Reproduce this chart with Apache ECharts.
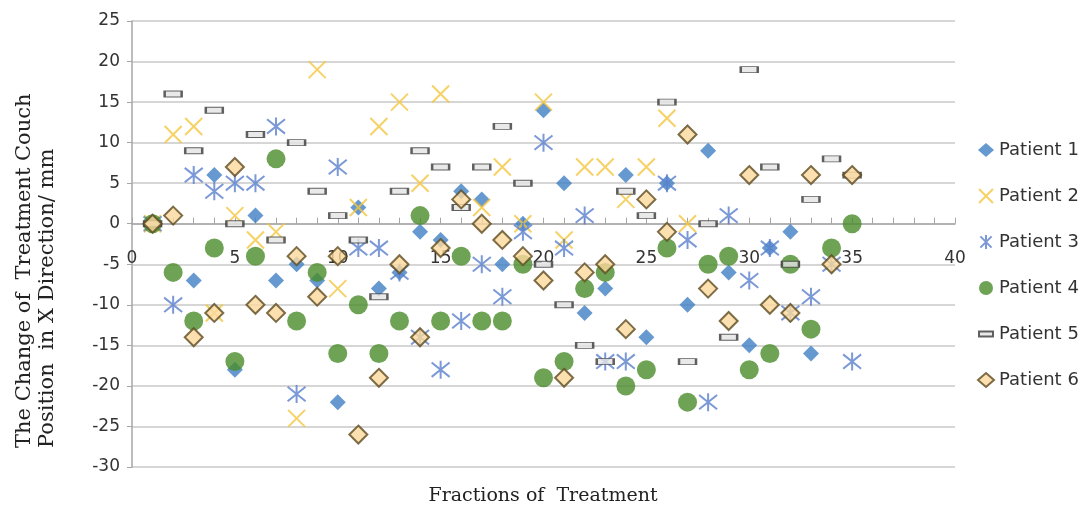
<!DOCTYPE html>
<html>
<head>
<meta charset="utf-8">
<script src="https://cdn.jsdelivr.net/npm/echarts@6/dist/echarts.min.js"></script>
<style>
html, body { margin: 0; padding: 0; background: #fff; }
#chart { width: 1089px; height: 508px; }
</style>
</head>
<body>
<div id="chart"></div>
<script>
// Fractions 1..35, change in couch position (mm); null = not visible in the picture
const fractions = [1, 2, 3, 4, 5, 6, 7, 8, 9, 10, 11, 12, 13, 14, 15, 16, 17, 18, 19, 20,
    21, 22, 23, 24, 25, 26, 27, 28, 29, 30, 31, 32, 33, 34, 35];
const patient1 = [0, null, -7, 6, -18, 1, -7, -5, -7, -22, 2, -8, -6, -1, -2, 4, 3, -5, 0, 14,
    5, -11, -8, 6, -14, 5, -10, 9, -6, -15, -3, -1, -16, null, null];
const patient2 = [0, 11, 12, -11, 1, -2, -1, -24, 19, -8, 2, 12, 15, 5, 16, null, 2, 7, 0, 15,
    -2, 7, 7, 3, 7, 13, 0, null, null, null, null, null, null, null, null];
const patient3 = [0, -10, 6, 4, 5, 5, 12, -21, null, 7, -3, -3, -6, -14, -18, -12, -5, -9, -1, 10,
    -3, 1, -17, -17, null, 5, -2, -22, 1, -7, -3, -11, -9, -5, -17];
const patient4 = [0, -6, -12, -3, -17, -4, 8, -12, -6, -16, -10, -16, -12, 1, -12, -4, -12, -12, -5, -19,
    -17, -8, -6, -20, -18, -3, -22, -5, -4, -18, -16, -5, -13, -3, 0];
const patient5 = [0, 16, 9, 14, 0, 11, -2, 10, 4, 1, -2, -9, 4, 9, 7, 2, 7, 12, 5, -5,
    -10, -15, -17, 4, 1, 15, -17, 0, -14, 19, 7, -5, 3, 8, 6];
const patient6 = [0, 1, -14, -11, 7, -10, -11, -4, -9, -4, -26, -19, -5, -14, -3, 3, 0, -2, -4, -7,
    -19, -6, -5, -13, 3, -1, 11, -8, -12, 6, -10, -11, 6, -5, 6];
const seriesNames = ['Patient 1', 'Patient 2', 'Patient 3', 'Patient 4', 'Patient 5', 'Patient 6'];
const yTicks = { min: -30, max: 25, step: 5 };
const xTicks = { min: 0, max: 40, step: 5 };

const SYMBOL_X = 'path://M0,0L20,20M20,0L0,20';
const SYMBOL_STAR = 'path://M2,2L18,18M18,2L2,18M10,0L10,20';
// legend icon for the dash: empty moves pad the box to a square so it is not stretched
const LEGEND_DASH = 'path://M0,-4.5L0,-4.5M0,0L14,0L14,5L0,5ZM14,9.5L14,9.5';

// grid box
const GRID = { left: 132, right: 134, top: 21, bottom: 41 };
const plotH = 508 - GRID.top - GRID.bottom;
// move the x axis from the bottom edge up to y = 0
const zeroOffset = -(plotH * (0 - yTicks.min) / (yTicks.max - yTicks.min));

function pairs(values) {
    const out = [];
    values.forEach((v, i) => {
        if (v !== null) out.push([fractions[i], v]);
    });
    return out;
}

const styles = [
    { symbol: 'diamond', symbolSize: 16, itemStyle: { color: '#3F7FC4' } },
    { symbol: SYMBOL_X, symbolSize: 17, itemStyle: { color: 'rgba(0,0,0,0)', borderColor: '#F4C63E', borderWidth: 2 } },
    { symbol: SYMBOL_STAR, symbolSize: 18, itemStyle: { color: 'rgba(0,0,0,0)', borderColor: '#5A80CC', borderWidth: 2 } },
    { symbol: 'circle', symbolSize: 19, itemStyle: { color: '#4A8C2A' } },
    { symbol: 'rect', symbolSize: [17, 6], itemStyle: { color: '#E4E4E4', borderColor: '#3A3A3A', borderWidth: 1.5 } },
    { symbol: 'diamond', symbolSize: 18, itemStyle: { color: '#FBD89C', borderColor: '#5C4A1E', borderWidth: 2 } }
];
const allValues = [patient1, patient2, patient3, patient4, patient5, patient6];

const chart = echarts.init(document.getElementById('chart'), null, { renderer: 'canvas' });

const option = {
    animation: false,
    backgroundColor: '#fff',
    grid: { left: GRID.left, right: GRID.right, top: GRID.top, bottom: GRID.bottom, containLabel: false },
    legend: {
        orient: 'vertical',
        left: 972,
        top: 136,
        itemGap: 28,
        itemWidth: 16,
        itemHeight: 14,
        data: seriesNames.map(n => n === 'Patient 5' ? { name: n, icon: LEGEND_DASH } : n),
        textStyle: { fontFamily: 'DejaVu Sans', fontSize: 18, color: '#333' }
    },
    xAxis: {
        type: 'value',
        position: 'bottom',
        offset: zeroOffset,
        min: xTicks.min,
        max: xTicks.max,
        interval: xTicks.step,
        axisLine: { onZero: false, lineStyle: { color: '#a6a6a6', width: 1.5 } },
        axisTick: { show: true, inside: true, length: 6, lineStyle: { color: '#a6a6a6' } },
        minorTick: { show: true, splitNumber: 5, length: 6, lineStyle: { color: '#a6a6a6' } },
        splitLine: { show: false },
        axisLabel: { margin: 26, fontFamily: 'DejaVu Sans', fontSize: 17, color: '#333' }
    },
    yAxis: {
        type: 'value',
        min: yTicks.min,
        max: yTicks.max,
        interval: yTicks.step,
        axisLine: { show: true, onZero: false, lineStyle: { color: '#a6a6a6', width: 1.5 } },
        axisTick: { show: true, length: 5, lineStyle: { color: '#a6a6a6' } },
        splitLine: { show: true, lineStyle: { color: '#c8c8c8', width: 1.5 } },
        axisLabel: { margin: 12, fontFamily: 'DejaVu Sans', fontSize: 17, color: '#333' }
    },
    graphic: [
        {
            type: 'text',
            x: 36,
            y: 448,
            rotation: Math.PI / 2,
            style: {
                text: 'The Change of  Treatment Couch\nPosition  in X Direction/ mm',
                fontFamily: 'DejaVu Serif',
                fontSize: 21,
                lineHeight: 23,
                fill: '#222',
                textAlign: 'left',
                textVerticalAlign: 'middle'
            }
        },
        {
            type: 'text',
            x: 543,
            y: 496,
            style: {
                text: 'Fractions of  Treatment',
                fontFamily: 'DejaVu Serif',
                fontSize: 19,
                fill: '#222',
                textAlign: 'center',
                textVerticalAlign: 'middle'
            }
        }
    ],
    series: seriesNames.map((name, k) => Object.assign({
        name: name,
        type: 'scatter',
        data: pairs(allValues[k])
    }, styles[k]))
};

chart.setOption(option);
</script>
</body>
</html>
